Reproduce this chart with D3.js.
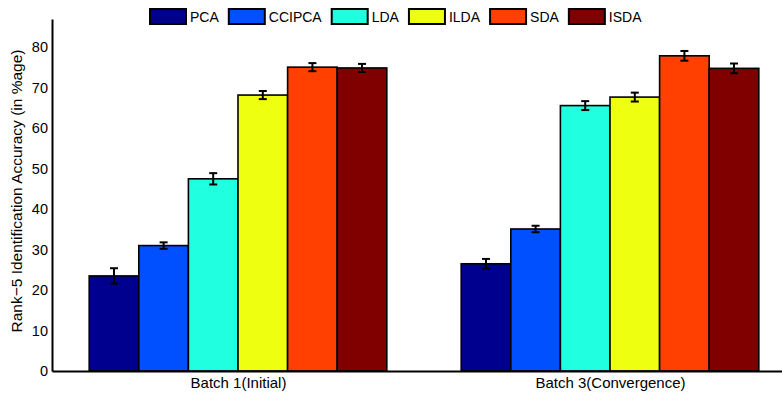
<!DOCTYPE html>
<html><head><meta charset="utf-8">
<script src="https://cdn.jsdelivr.net/npm/d3@7"></script>
<style>body{margin:0;background:#fff}svg{display:block}text{font-family:"Liberation Sans",Arial,sans-serif}</style>
</head><body>
<svg id="c" width="782" height="393"></svg>
<script>
const groups = ["Batch 1(Initial)", "Batch 3(Convergence)"];
const methods = ["PCA", "CCIPCA", "LDA", "ILDA", "SDA", "ISDA"];
const colors = ["#00008f", "#0050ff", "#20ffdf", "#efff10", "#ff4000", "#800000"];
const values = [
  [23.5, 31.0, 47.5, 68.2, 75.1, 74.9],
  [26.5, 35.1, 65.6, 67.7, 77.9, 74.8]
];
const errors = [
  [1.9, 0.8, 1.4, 1.0, 1.0, 1.0],
  [1.2, 0.8, 1.1, 1.1, 1.2, 1.2]
];
const yTicks = [0, 10, 20, 30, 40, 50, 60, 70, 80];

const svg = d3.select("#c");
const x = d3.scaleLinear().domain([0.5, 2.5]).range([52, 796]);
const y = d3.scaleLinear().domain([0, 87]).range([371, 19]);
const bw = 0.8 / methods.length;

const g = svg.append("g");
groups.forEach((grp, gi) => {
  methods.forEach((m, mi) => {
    const c = gi + 1 - 0.4 + bw * mi;
    const x0 = x(c), x1 = x(c + bw);
    const v = values[gi][mi], e = errors[gi][mi];
    g.append("rect").attr("x", x0).attr("y", y(v)).attr("width", x1 - x0).attr("height", y(0) - y(v))
      .attr("fill", colors[mi]).attr("stroke", "#000").attr("stroke-width", 1.6);
    const cx = (x0 + x1) / 2;
    const eg = g.append("g").attr("stroke", "#000").attr("stroke-width", 2);
    eg.append("line").attr("x1", cx).attr("x2", cx).attr("y1", y(v - e)).attr("y2", y(v + e));
    eg.append("line").attr("x1", cx - 4).attr("x2", cx + 4).attr("y1", y(v - e)).attr("y2", y(v - e));
    eg.append("line").attr("x1", cx - 4).attr("x2", cx + 4).attr("y1", y(v + e)).attr("y2", y(v + e));
  });
});

// axes
const yAxis = d3.axisLeft(y).tickValues(yTicks).tickSize(0).tickPadding(4);
const ya = svg.append("g").attr("transform", "translate(52,0)").call(yAxis);
ya.select(".domain").attr("stroke", "#000").attr("stroke-width", 2);
ya.selectAll("text").attr("font-size", 14.5).attr("fill", "#000").attr("font-family", "Liberation Sans, Arial, sans-serif");

const xAxis = d3.axisBottom(x).tickValues([1, 2]).tickFormat((d) => groups[d - 1]).tickSize(0).tickPadding(6);
const xa = svg.append("g").attr("transform", "translate(0,371)").call(xAxis);
xa.select(".domain").attr("stroke", "#000").attr("stroke-width", 2);
xa.selectAll("text").attr("font-size", 15).attr("fill", "#000").attr("font-family", "Liberation Sans, Arial, sans-serif");

svg.append("text").attr("transform", "translate(21.5,191) rotate(-90)").attr("text-anchor", "middle")
  .attr("font-size", 15.5).text("Rank\u22125 Identification Accuracy (in %age)");

// legend
let lx = 150;
const lg = svg.append("g");
methods.forEach((m, mi) => {
  lg.append("rect").attr("x", lx).attr("y", 9).attr("width", 36).attr("height", 15)
    .attr("fill", colors[mi]).attr("stroke", "#000").attr("stroke-width", 2);
  const t = lg.append("text").attr("x", lx + 40).attr("y", 22).attr("font-size", 14).text(m);
  lx += 40 + t.node().getComputedTextLength() + 10;
});
</script>
</body></html>
